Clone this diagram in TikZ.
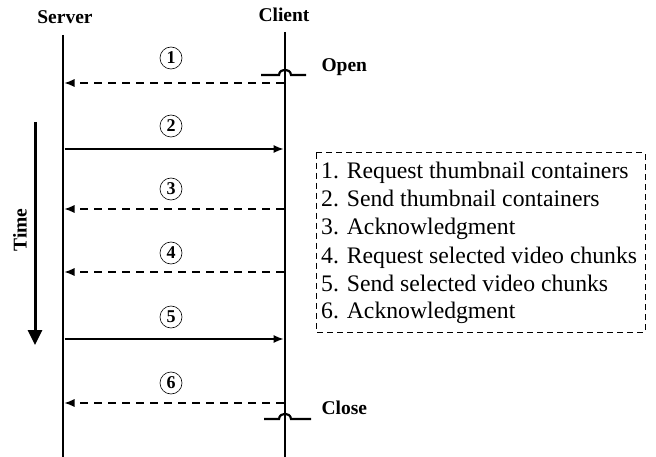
\documentclass[tikz,border=0pt]{standalone}
\usepackage{fontspec}
\setmainfont{Liberation Serif}
\usetikzlibrary{arrows.meta}
\tikzset{
  lifeline/.style={line width=2.6pt},
  msg/.style={line width=1.1pt,-{Latex[length=10pt,width=8pt]}},
  msgdash/.style={msg,dash pattern=on 8pt off 6pt},
  numcirc/.style={circle,draw,line width=0.6pt,minimum size=22pt,inner sep=0pt,font=\fontsize{18}{18}\selectfont\bfseries},
  headlbl/.style={font=\fontsize{19.5}{19.5}\selectfont\bfseries},
  legendline/.style={anchor=base west,font=\fontsize{23.7}{23.7}\selectfont,inner sep=0pt},
  bump/.style={line width=2.2pt}
}
\begin{document}
\begin{tikzpicture}[x=1pt,y=-1pt]
\useasboundingbox (0,0) rectangle (656,457);
% lifelines
\coordinate (stop) at (63,35);
\coordinate (sbot) at (63,457);
\coordinate (ctop) at (285,32);
\coordinate (cbot) at (285,457);
\draw[lifeline] (stop) -- (sbot);
\draw[lifeline] (ctop) -- (cbot);
\node[headlbl] (server) at (65,17) {Server};
\node[headlbl] (client) at (284,15) {Client};
% message points
\foreach \i/\y in {1/83,2/149,3/209,4/272,5/339,6/403}{
  \coordinate (s\i) at (64.5,\y);
  \coordinate (c\i) at (283.5,\y);
}
\draw[msgdash] (c1) -- (s1);
\draw[msg] (s2) -- (c2);
\draw[msgdash] (c3) -- (s3);
\draw[msgdash] (c4) -- (s4);
\draw[msg] (s5) -- (c5);
\draw[msgdash] (c6) -- (s6);
% number circles
\node[numcirc] (n1) at (171,58) {1};
\node[numcirc] (n2) at (171,126) {2};
\node[numcirc] (n3) at (171,189) {3};
\node[numcirc] (n4) at (171,253) {4};
\node[numcirc] (n5) at (171,317) {5};
\node[numcirc] (n6) at (171,383) {6};
% open / close bumps
\draw[bump] (261,75) -- (279,75) .. controls (279.5,68) and (290.5,68) .. (291,75) -- (306,75);
\draw[bump] (264,419) -- (279,419) .. controls (279.5,412) and (290.5,412) .. (291,419) -- (311,419);
\node[headlbl,anchor=west] (open) at (318,67) {Open};
\node[headlbl,anchor=west] (close) at (318,408) {Close};
% time arrow
\coordinate (t0) at (35,122);
\coordinate (t1) at (35,345);
\draw[line width=3pt,-{Triangle[length=15pt,width=14pt]}] (t0) -- (t1);
\node[headlbl,rotate=90] (time) at (20,230) {Time};
% legend box
\draw[line width=1pt,dash pattern=on 6pt off 4pt] (316,153) rectangle (645,332);
\node[legendline] (l1) at (321,179) {1. Request thumbnail containers};
\node[legendline] (l2) at (321,207) {2. Send thumbnail containers};
\node[legendline] (l3) at (321,235) {3. Acknowledgment};
\node[legendline] (l4) at (321,263) {4. Request selected video chunks};
\node[legendline] (l5) at (321,291) {5. Send selected video chunks};
\node[legendline] (l6) at (321,318) {6. Acknowledgment};
\end{tikzpicture}
\end{document}
